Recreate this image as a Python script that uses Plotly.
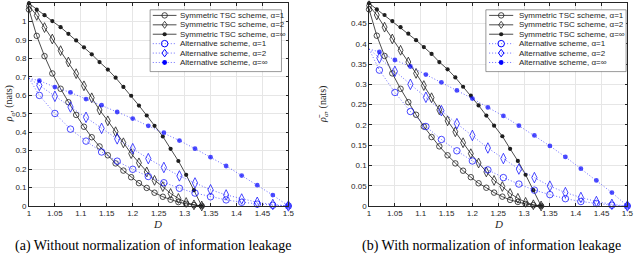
import plotly.graph_objects as go

# ---------------- data ----------------
D_SYM = [1.000, 1.015, 1.030, 1.045, 1.061, 1.076, 1.091, 1.106, 1.121, 1.136, 1.152, 1.167,
         1.182, 1.197, 1.212, 1.227, 1.242, 1.258, 1.273, 1.288, 1.303, 1.318, 1.333]
D_ALT = [1.00, 1.02, 1.05, 1.08, 1.11, 1.14, 1.17, 1.20, 1.23, 1.26, 1.29, 1.32, 1.35,
         1.38, 1.41, 1.44, 1.47, 1.50]

# (a) without normalization
A_SYM_1 = [1.066, 0.923, 0.813, 0.719, 0.636, 0.563, 0.494, 0.430, 0.373, 0.323, 0.275, 0.231,
           0.192, 0.156, 0.124, 0.098, 0.072, 0.050, 0.034, 0.021, 0.012, 0.005, 0.0]
A_SYM_2 = [1.085, 1.034, 0.968, 0.906, 0.843, 0.781, 0.718, 0.652, 0.587, 0.521, 0.462, 0.403,
           0.343, 0.284, 0.234, 0.185, 0.139, 0.105, 0.068, 0.041, 0.019, 0.006, 0.0]
A_SYM_INF = [1.099, 1.065, 1.035, 1.003, 0.970, 0.934, 0.898, 0.861, 0.823, 0.781, 0.740, 0.696,
             0.646, 0.598, 0.545, 0.491, 0.435, 0.377, 0.310, 0.244, 0.169, 0.086, 0.0]
A_ALT_1 = [0.693, 0.600, 0.502, 0.417, 0.352, 0.293, 0.243, 0.199, 0.160, 0.126, 0.096, 0.070,
           0.050, 0.033, 0.020, 0.010, 0.004, 0.0]
A_ALT_2 = [0.693, 0.654, 0.595, 0.537, 0.481, 0.421, 0.364, 0.311, 0.257, 0.209, 0.163, 0.125,
           0.088, 0.060, 0.038, 0.020, 0.008, 0.0]
A_ALT_INF = [0.693, 0.680, 0.645, 0.616, 0.580, 0.547, 0.510, 0.474, 0.435, 0.398, 0.355, 0.311,
             0.265, 0.217, 0.165, 0.113, 0.059, 0.0]

# (b) with normalization
B_SYM_1 = [0.485, 0.420, 0.370, 0.327, 0.289, 0.256, 0.225, 0.196, 0.170, 0.147, 0.125, 0.105,
           0.087, 0.071, 0.056, 0.045, 0.033, 0.023, 0.015, 0.010, 0.005, 0.002, 0.0]
B_SYM_2 = [0.494, 0.471, 0.441, 0.412, 0.384, 0.355, 0.327, 0.297, 0.267, 0.237, 0.210, 0.183,
           0.156, 0.129, 0.106, 0.084, 0.063, 0.048, 0.031, 0.019, 0.009, 0.003, 0.0]
B_SYM_INF = [0.500, 0.485, 0.471, 0.456, 0.441, 0.425, 0.409, 0.392, 0.375, 0.355, 0.337, 0.317,
             0.294, 0.272, 0.248, 0.223, 0.198, 0.172, 0.141, 0.111, 0.077, 0.039, 0.0]
B_ALT_1 = [0.387, 0.335, 0.280, 0.233, 0.196, 0.164, 0.136, 0.111, 0.089, 0.070, 0.054, 0.039,
           0.028, 0.018, 0.011, 0.006, 0.002, 0.0]
B_ALT_2 = [0.387, 0.365, 0.332, 0.300, 0.268, 0.235, 0.203, 0.174, 0.143, 0.117, 0.091, 0.070,
           0.049, 0.033, 0.021, 0.011, 0.004, 0.0]
B_ALT_INF = [0.387, 0.380, 0.360, 0.344, 0.324, 0.305, 0.285, 0.265, 0.243, 0.222, 0.198, 0.174,
             0.148, 0.121, 0.092, 0.063, 0.033, 0.0]

SERIES_NAMES = ["Symmetric TSC scheme, α=1", "Symmetric TSC scheme, α=2",
                "Symmetric TSC scheme, α=∞", "Alternative scheme, α=1",
                "Alternative scheme, α=2", "Alternative scheme, α=∞"]

X_TICKS = [1.0, 1.05, 1.1, 1.15, 1.2, 1.25, 1.3, 1.35, 1.4, 1.45, 1.5]
X_TICKTEXT = ["1", "1.05", "1.1", "1.15", "1.2", "1.25", "1.3", "1.35", "1.4", "1.45", "1.5"]
YA_TICKS = [0, 0.1, 0.2, 0.3, 0.4, 0.5, 0.6, 0.7, 0.8, 0.9, 1.0]
YA_TICKTEXT = ["0", "0.1", "0.2", "0.3", "0.4", "0.5", "0.6", "0.7", "0.8", "0.9", "1"]
YB_TICKS = [0, 0.05, 0.1, 0.15, 0.2, 0.25, 0.3, 0.35, 0.4, 0.45, 0.5]
YB_TICKTEXT = ["0", "0.05", "0.1", "0.15", "0.2", "0.25", "0.3", "0.35", "0.4", "0.45", "0.5"]

CAPTION_A = "(a) Without normalization of information leakage"
CAPTION_B = "(b) With normalization of information leakage"

# ---------------- styles ----------------
W, H = 640, 261
BLACK = "#1e1e1e"
BLUE = "#0000ff"
BLUE_LINE = "rgb(70,70,255)"
AXC = "#262626"
SANS = "Liberation Sans, Arial, sans-serif"
SERIF = "Liberation Serif, Times New Roman, serif"

STYLES = [
    dict(line=dict(color=BLACK, width=0.8), sym="circle-open", size=5.5, mcol=BLACK, mlw=0.8),
    dict(line=dict(color=BLACK, width=0.8), sym="diamond-tall-open", size=7, mcol=BLACK, mlw=0.8),
    dict(line=dict(color=BLACK, width=0.8), sym="circle", size=4.2, mcol=BLACK, mlw=0),
    dict(line=dict(color=BLUE_LINE, width=0.8, dash="1px,2px"), sym="circle-open", size=6.5, mcol=BLUE, mlw=1.0),
    dict(line=dict(color=BLUE_LINE, width=0.8, dash="1px,2px"), sym="diamond-tall-open", size=7.5, mcol=BLUE, mlw=1.0),
    dict(line=dict(color=BLUE_LINE, width=0.8, dash="1px,2px"), sym="circle", size=4.8, mcol=BLUE, mlw=0),
]

fig = go.Figure()

panels = [
    ("x", "y", [(D_SYM, A_SYM_1), (D_SYM, A_SYM_2), (D_SYM, A_SYM_INF),
                (D_ALT, A_ALT_1), (D_ALT, A_ALT_2), (D_ALT, A_ALT_INF)]),
    ("x2", "y2", [(D_SYM, B_SYM_1), (D_SYM, B_SYM_2), (D_SYM, B_SYM_INF),
                  (D_ALT, B_ALT_1), (D_ALT, B_ALT_2), (D_ALT, B_ALT_INF)]),
]

for xa, ya, series in panels:
    for i, (xs, ys) in enumerate(series):
        st = STYLES[i]
        if i >= 3:
            sizes = [0] + [st["size"]] * (len(xs) - 1)
        else:
            sizes = st["size"]
        fig.add_trace(go.Scatter(
            x=xs, y=ys, xaxis=xa, yaxis=ya, mode="lines+markers",
            name=SERIES_NAMES[i], showlegend=False, cliponaxis=False,
            line=st["line"],
            marker=dict(symbol=st["sym"], size=sizes, color=st["mcol"],
                        line=dict(color=st["mcol"], width=st["mlw"])),
        ))


def px(x):
    return x / W


def py(y):
    return 1 - y / H


axis_common = dict(
    showgrid=True, gridcolor="#e6e6e6", gridwidth=0.7, zeroline=False,
    showline=True, linecolor=AXC, linewidth=0.7, mirror="ticks",
    ticks="inside", ticklen=3, tickwidth=0.6, tickcolor=AXC,
    tickfont=dict(family=SANS, size=8, color=AXC),
)

Y_TOP, Y_BOT = 3.3, 210.0
fig.update_layout(
    width=W, height=H, margin=dict(l=0, r=0, t=0, b=0),
    paper_bgcolor="white", plot_bgcolor="white", showlegend=False,
    xaxis=dict(domain=[px(27.3), px(290.0)], range=[1, 1.5], tickvals=X_TICKS,
               ticktext=X_TICKTEXT, anchor="y", **axis_common),
    yaxis=dict(domain=[py(Y_BOT), py(Y_TOP)], range=[0, 1.1], tickvals=YA_TICKS,
               ticktext=YA_TICKTEXT, anchor="x", **axis_common),
    xaxis2=dict(domain=[px(371.7), px(633.3)], range=[1, 1.5], tickvals=X_TICKS,
                ticktext=X_TICKTEXT, anchor="y2", **axis_common),
    yaxis2=dict(domain=[py(Y_BOT), py(Y_TOP)], range=[0, 0.5], tickvals=YB_TICKS,
                ticktext=YB_TICKTEXT, anchor="x2", **axis_common),
)

ann = []


def text_ann(x, y, text, size, family, color=AXC, angle=0, xanchor="center"):
    ann.append(dict(x=px(x), y=py(y), xref="paper", yref="paper", text=text,
                    xanchor=xanchor, yanchor="middle", textangle=angle, showarrow=False,
                    font=dict(family=family, size=size, color=color)))


# axis titles
text_ann(157, 228, "<i>D</i>", 11, SERIF)
text_ann(502.5, 228, "<i>D</i>", 11, SERIF)
text_ann(8.5, 106, "<i>ρ</i><sub><i>α</i></sub>, (nats)", 10, SERIF, angle=-90)
text_ann(326, 106, "<i>ρ̄</i><sub><i>α</i></sub>, (nats)", 10, SERIF, angle=-90)
# captions
text_ann(153, 251, CAPTION_A, 14, SERIF, color="black")
text_ann(496, 251, CAPTION_B, 14, SERIF, color="black")

shapes = []


def add_legend(bx0, bx1, by0, by1, lx0, lx1, tx):
    shapes.append(dict(type="rect", xref="paper", yref="paper",
                       x0=px(bx0), x1=px(bx1), y0=py(by0), y1=py(by1),
                       fillcolor="white", line=dict(color="#555555", width=0.6), layer="above"))
    for i, name in enumerate(SERIES_NAMES):
        yy = 15.7 + 9.6 * i
        st = STYLES[i]
        lc = st["line"]
        shapes.append(dict(type="line", xref="paper", yref="paper",
                           x0=px(lx0), x1=px(lx1), y0=py(yy), y1=py(yy), layer="above",
                           line=dict(color=lc["color"], width=lc["width"],
                                     dash=lc.get("dash", "solid"))))
        mx = (lx0 + lx1) / 2
        r = st["size"] / 2
        common = dict(xref="paper", yref="paper", xsizemode="pixel", ysizemode="pixel",
                      xanchor=px(mx), yanchor=py(yy), layer="above")
        if "circle" in st["sym"]:
            filled = not st["sym"].endswith("open")
            shapes.append(dict(type="circle", x0=-r, x1=r, y0=-r, y1=r,
                               fillcolor=st["mcol"] if filled else "rgba(0,0,0,0)",
                               line=dict(color=st["mcol"], width=st["mlw"] if not filled else 0),
                               **common))
        else:
            hw, hh = r * 0.72, r * 1.0
            shapes.append(dict(type="path",
                               path=f"M0,{hh} L{hw},0 L0,{-hh} L{-hw},0 Z",
                               fillcolor="rgba(0,0,0,0)",
                               line=dict(color=st["mcol"], width=st["mlw"]), **common))
        text_ann(tx, yy, name, 8, SANS, xanchor="left")


add_legend(150, 283, 10, 73, 152.7, 176.7, 178.5)
add_legend(490, 632, 10, 73, 493.3, 517.7, 521.5)

fig.update_layout(annotations=ann, shapes=shapes)
fig.write_html("out.html", config={"displayModeBar": False},
               post_script="document.body.style.margin='0';document.body.style.overflow='hidden';")
